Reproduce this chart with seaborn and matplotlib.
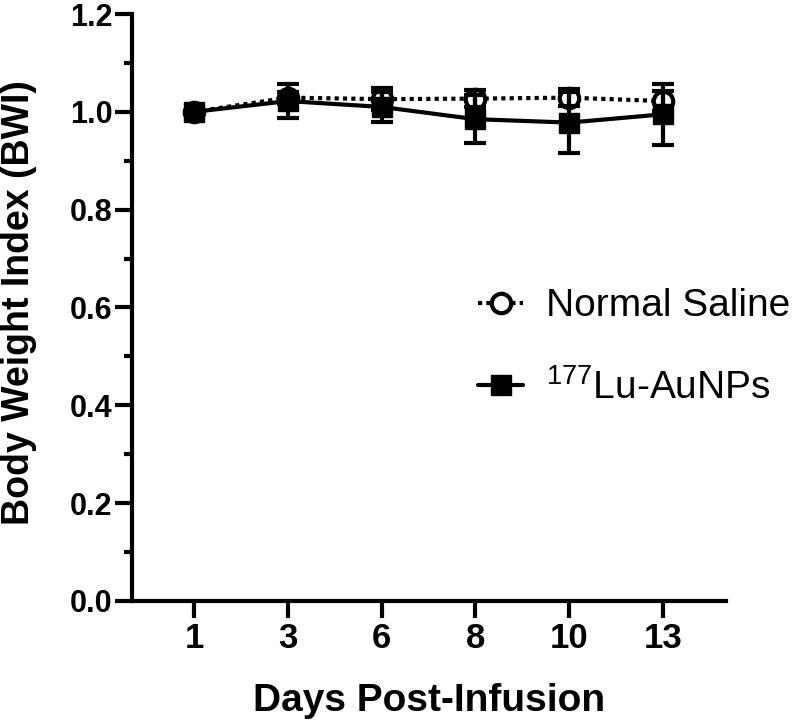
import numpy as np
import pandas as pd
import matplotlib
matplotlib.use("Agg")
import matplotlib.pyplot as plt
import seaborn as sns
from matplotlib.ticker import MultipleLocator

# data
days = ["1", "3", "6", "8", "10", "13"]
saline_bwi = [1.000, 1.029, 1.026, 1.027, 1.029, 1.022]
saline_err = [0.0, 0.012, 0.022, 0.017, 0.018, 0.020]
lu_bwi = [1.000, 1.022, 1.010, 0.985, 0.978, 0.995]
lu_err = [0.0, 0.034, 0.030, 0.049, 0.063, 0.062]

saline_label = "Normal Saline"
lu_label = r"$^{177}$Lu-AuNPs"

sns.set_theme(style="ticks")
plt.rcParams['font.family'] = ['Liberation Sans', 'DejaVu Sans']
plt.rcParams['mathtext.fontset'] = 'custom'
plt.rcParams['mathtext.rm'] = 'Liberation Sans'
plt.rcParams['mathtext.it'] = 'Liberation Sans:italic'
plt.rcParams['mathtext.bf'] = 'Liberation Sans:bold'
plt.rcParams['text.color'] = 'black'
plt.rcParams['axes.labelcolor'] = 'black'
plt.rcParams['xtick.color'] = 'black'
plt.rcParams['ytick.color'] = 'black'

df_saline = pd.DataFrame({"day": days, "bwi": saline_bwi, "err": saline_err})
df_lu = pd.DataFrame({"day": days, "bwi": lu_bwi, "err": lu_err})

fig = plt.figure(figsize=(7.95, 7.22), dpi=100)
ax = fig.add_axes([0.1657, 0.1676, 0.7477, 0.813])

# normal saline: dotted line, open circles
sns.lineplot(data=df_saline, x="day", y="bwi", ax=ax, sort=False,
             color="black", linewidth=3, linestyle=(0, (1, 1)),
             marker="o", markersize=14, markerfacecolor="white",
             markeredgecolor="black", markeredgewidth=3,
             label=saline_label, zorder=2)
ax.errorbar(df_saline["day"], df_saline["bwi"],
            yerr=np.where(df_saline["err"] > 0, df_saline["err"], np.nan),
            fmt="none", ecolor="black", elinewidth=3, capsize=8, capthick=3,
            zorder=2.5)

# 177Lu-AuNPs: solid line, filled squares
sns.lineplot(data=df_lu, x="day", y="bwi", ax=ax, sort=False,
             color="black", linewidth=3, linestyle="-",
             marker="s", markersize=14, markerfacecolor="black",
             markeredgecolor="black", markeredgewidth=1,
             label=lu_label, zorder=3)
ax.errorbar(df_lu["day"], df_lu["bwi"],
            yerr=np.where(df_lu["err"] > 0, df_lu["err"], np.nan),
            fmt="none", ecolor="black", elinewidth=3, capsize=8, capthick=3,
            zorder=3)

ax.set_xlim(-0.664, 5.672)
ax.set_ylim(0, 1.2)
ax.yaxis.set_major_locator(MultipleLocator(0.2))
ax.yaxis.set_minor_locator(MultipleLocator(0.1))

sns.despine(ax=ax)
for side in ["left", "bottom"]:
    ax.spines[side].set_linewidth(3)
    ax.spines[side].set_color("black")

ax.tick_params(axis="both", which="major", length=12, width=3, color="black")
ax.tick_params(axis="y", which="minor", length=6, width=3, color="black")
ax.tick_params(axis="y", labelsize=22, pad=2)
ax.tick_params(axis="x", labelsize=25, pad=3)
for lab in ax.get_xticklabels() + ax.get_yticklabels():
    lab.set_fontweight("bold")
    lab.set_color("black")

ax.set_xlabel("Days Post-Infusion", fontsize=28, fontweight="bold", va="center")
ax.set_ylabel("Body Weight Index (BWI)", fontsize=27, fontweight="bold", va="center")
ax.xaxis.set_label_coords(0.5, -0.17)
ax.yaxis.set_label_coords(-0.19, 0.508)

ax.legend(loc="center left", bbox_to_anchor=(0.583, 0.432), frameon=False,
          fontsize=28, handlelength=1.15, handletextpad=0.6, labelspacing=1.15,
          borderpad=0, borderaxespad=0)

fig.savefig("out.png", dpi=100)
